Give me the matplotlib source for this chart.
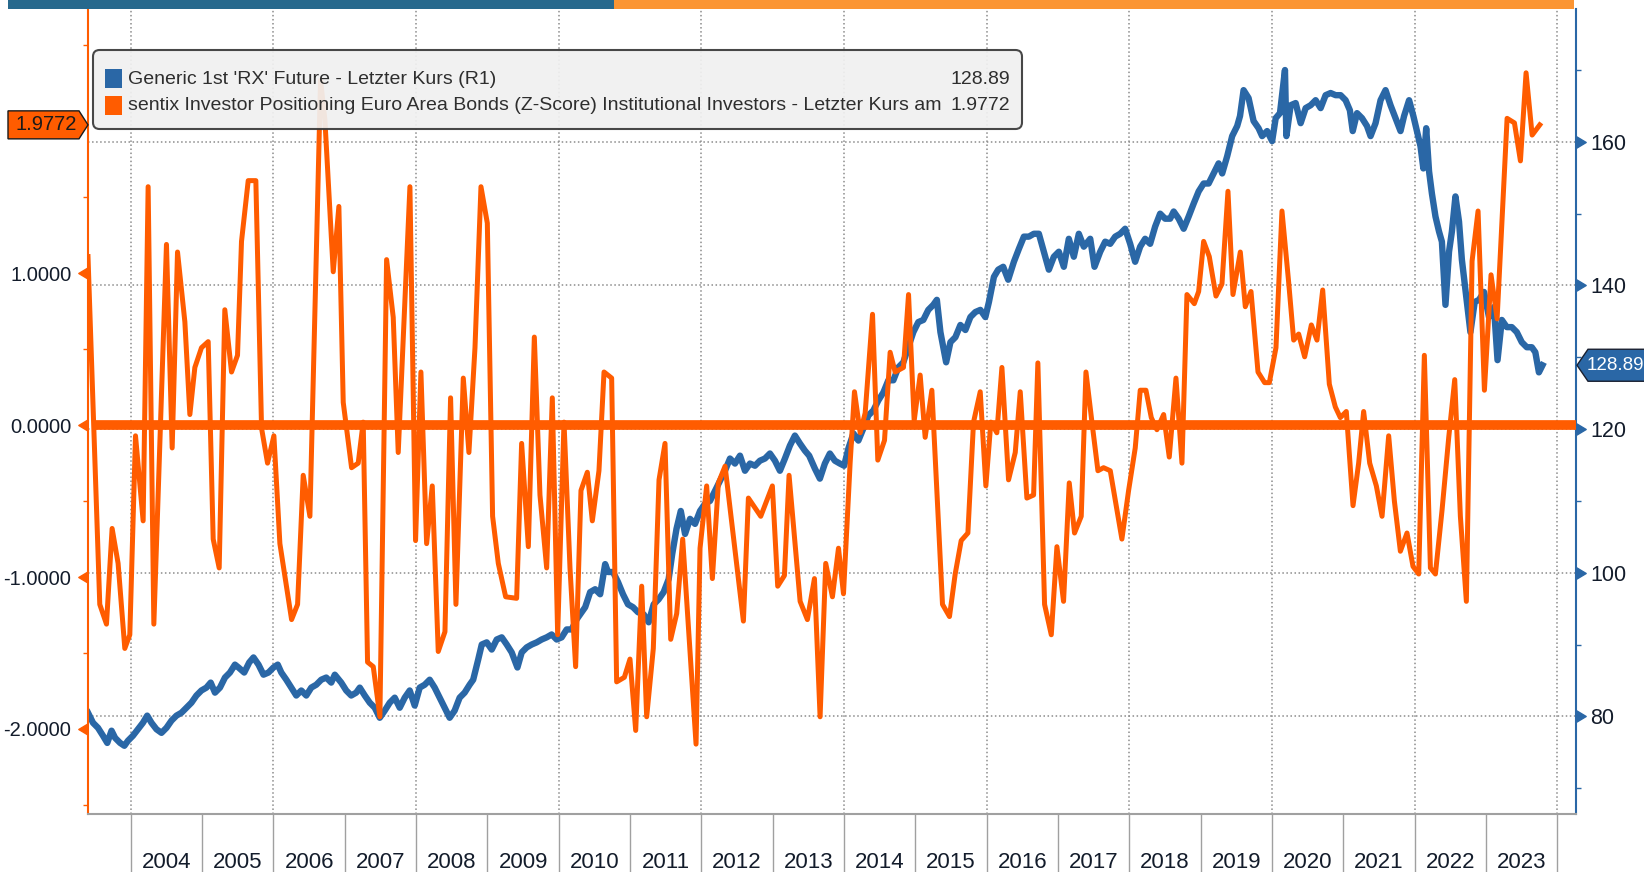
import matplotlib
matplotlib.use("Agg")
import matplotlib.pyplot as plt
import matplotlib.transforms as mtransforms
from matplotlib.patches import Rectangle, FancyBboxPatch, Polygon

plt.rcParams['font.family'] = ['Liberation Sans', 'DejaVu Sans']

W, H = 1644, 872
ORANGE = '#ff5c00'
BLUE = '#2a67a6'
TXT = '#131c2b'

# -----------------------------
# Data
# -----------------------------
# Generic 1st 'RX' Future (right axis)
rx_t = [2003.40, 2003.47, 2003.54, 2003.61, 2003.67, 2003.73, 2003.78, 2003.85, 2003.91, 2003.96,
        2004.03, 2004.10, 2004.17, 2004.23, 2004.29, 2004.36, 2004.43, 2004.50, 2004.57, 2004.64,
        2004.71, 2004.78, 2004.85, 2004.92, 2004.99, 2005.06, 2005.12, 2005.18, 2005.25, 2005.32,
        2005.39, 2005.46, 2005.51, 2005.59, 2005.66, 2005.72, 2005.79, 2005.86, 2005.93, 2006.00,
        2006.06, 2006.11, 2006.18, 2006.25, 2006.32, 2006.39, 2006.46, 2006.53, 2006.60, 2006.67,
        2006.74, 2006.81, 2006.86, 2006.95, 2007.02, 2007.09, 2007.16, 2007.21, 2007.28, 2007.35,
        2007.42, 2007.49, 2007.56, 2007.63, 2007.70, 2007.77, 2007.84, 2007.91, 2007.98, 2008.05,
        2008.12, 2008.19, 2008.26, 2008.33, 2008.40, 2008.47, 2008.54, 2008.61, 2008.68, 2008.75,
        2008.80, 2008.87, 2008.92, 2008.99, 2009.06, 2009.13, 2009.20, 2009.27, 2009.34, 2009.42,
        2009.48, 2009.55, 2009.62, 2009.69, 2009.76, 2009.83, 2009.90, 2009.97, 2010.04, 2010.11,
        2010.18, 2010.25, 2010.37, 2010.44, 2010.51, 2010.58, 2010.65, 2010.69, 2010.76, 2010.83,
        2010.90, 2010.97, 2011.04, 2011.11, 2011.19, 2011.26, 2011.33, 2011.40, 2011.47, 2011.54,
        2011.59, 2011.65, 2011.71, 2011.77, 2011.84, 2011.91, 2011.98, 2012.05, 2012.12, 2012.19,
        2012.26, 2012.33, 2012.40, 2012.47, 2012.54, 2012.61, 2012.68, 2012.75, 2012.82, 2012.89,
        2012.96, 2013.03, 2013.10, 2013.17, 2013.24, 2013.31, 2013.38, 2013.45, 2013.51, 2013.59,
        2013.66, 2013.73, 2013.80, 2013.87, 2013.94, 2014.00, 2014.06, 2014.13, 2014.20, 2014.27,
        2014.34, 2014.41, 2014.48, 2014.55, 2014.62, 2014.69, 2014.76, 2014.83, 2014.90, 2014.97,
        2015.04, 2015.11, 2015.18, 2015.25, 2015.30, 2015.35, 2015.39, 2015.43, 2015.49, 2015.56,
        2015.63, 2015.70, 2015.77, 2015.84, 2015.91, 2015.98, 2016.03, 2016.10, 2016.16, 2016.23,
        2016.30, 2016.38, 2016.45, 2016.52, 2016.59, 2016.66, 2016.73, 2016.80, 2016.87, 2016.94,
        2017.01, 2017.08, 2017.15, 2017.22, 2017.29, 2017.36, 2017.45, 2017.51, 2017.59, 2017.66,
        2017.73, 2017.80, 2017.87, 2017.94, 2018.01, 2018.08, 2018.15, 2018.22, 2018.29, 2018.36,
        2018.43, 2018.50, 2018.57, 2018.62, 2018.69, 2018.76, 2018.83, 2018.90, 2018.97, 2019.04,
        2019.11, 2019.18, 2019.25, 2019.30, 2019.37, 2019.44, 2019.51, 2019.55, 2019.60, 2019.67,
        2019.74, 2019.81, 2019.86, 2019.93, 2020.00, 2020.05, 2020.11, 2020.18, 2020.20, 2020.26,
        2020.33, 2020.40, 2020.47, 2020.54, 2020.61, 2020.68, 2020.75, 2020.82, 2020.89, 2020.96,
        2021.03, 2021.09, 2021.13, 2021.19, 2021.26, 2021.33, 2021.38, 2021.45, 2021.52, 2021.59,
        2021.66, 2021.73, 2021.80, 2021.85, 2021.92, 2021.98, 2022.03, 2022.08, 2022.12, 2022.16,
        2022.20, 2022.24, 2022.29, 2022.34, 2022.38, 2022.43, 2022.48, 2022.52, 2022.57, 2022.62,
        2022.66, 2022.73, 2022.78, 2022.84, 2022.90, 2022.97, 2023.04, 2023.11, 2023.16, 2023.22,
        2023.29, 2023.36, 2023.43, 2023.50, 2023.57, 2023.64, 2023.69, 2023.74, 2023.79]
rx_v = [80.5, 79.1, 78.4, 77.3, 76.3, 78.0, 77.0, 76.3, 75.9, 76.6,
        77.3, 78.2, 79.1, 80.1, 79.1, 78.2, 77.7, 78.4, 79.4, 80.1,
        80.5, 81.2, 81.9, 82.9, 83.6, 84.0, 84.7, 83.3, 84.0, 85.4,
        86.1, 87.2, 86.8, 86.1, 87.5, 88.2, 87.2, 85.8, 86.1, 86.8,
        87.2, 86.1, 85.1, 84.0, 82.9, 83.6, 82.9, 84.0, 84.4, 85.1,
        85.4, 84.7, 85.8, 84.7, 83.6, 82.9, 83.3, 84.0, 82.9, 81.9,
        81.2, 79.8, 80.8, 81.9, 82.6, 81.2, 82.6, 83.6, 81.5, 84.0,
        84.4, 85.1, 84.0, 82.6, 81.2, 79.8, 80.8, 82.6, 83.3, 84.4,
        85.1, 87.9, 90.0, 90.3, 89.3, 90.7, 91.0, 90.0, 88.9, 86.8,
        88.9, 89.6, 90.0, 90.3, 90.7, 91.0, 91.4, 90.7, 91.0, 92.1,
        92.1, 93.5, 95.2, 97.3, 97.7, 97.0, 101.2, 100.1, 100.1, 98.7,
        97.0, 95.6, 95.2, 94.5, 94.2, 93.1, 95.6, 96.3, 97.3, 99.1,
        102.6, 106.1, 108.6, 105.4, 107.5, 106.8, 108.6, 109.6, 110.0, 111.4,
        112.8, 114.2, 115.9, 115.2, 116.3, 114.2, 115.2, 114.9, 115.6, 115.9,
        116.6, 115.6, 114.2, 115.9, 117.7, 119.1, 118.0, 117.0, 116.3, 114.5,
        113.1, 115.2, 116.6, 115.6, 115.2, 114.9, 117.3, 119.4, 118.4, 120.1,
        121.9, 122.6, 124.0, 125.1, 126.8, 126.8, 128.6, 129.3, 131.4, 133.5,
        134.9, 135.2, 136.6, 137.3, 138.0, 133.5, 131.4, 129.3, 132.1, 132.8,
        134.5, 133.8, 135.6, 136.3, 136.6, 135.6, 137.7, 141.2, 142.2, 142.6,
        140.8, 143.3, 145.1, 146.8, 146.8, 147.2, 147.2, 144.7, 142.2, 144.0,
        144.7, 142.6, 146.5, 144.0, 147.2, 145.4, 146.5, 142.6, 144.7, 146.1,
        145.8, 146.8, 147.2, 147.9, 145.8, 143.3, 145.4, 146.5, 145.8, 148.2,
        150.0, 149.3, 149.3, 150.3, 149.3, 147.9, 149.6, 151.4, 153.1, 154.2,
        154.2, 155.6, 157.0, 155.6, 158.0, 160.8, 162.2, 163.6, 167.2, 166.1,
        162.9, 161.9, 160.8, 161.5, 160.1, 163.3, 164.0, 170.0, 160.8, 165.1,
        165.4, 162.6, 164.7, 165.1, 165.8, 164.7, 166.5, 166.8, 166.5, 166.5,
        165.8, 164.4, 161.5, 164.0, 163.3, 162.2, 160.8, 162.6, 165.8, 167.2,
        165.1, 163.3, 161.5, 163.6, 165.8, 163.6, 161.5, 159.4, 156.3, 161.9,
        155.9, 152.8, 149.6, 147.5, 146.1, 137.3, 144.7, 147.5, 152.4, 148.9,
        143.6, 137.7, 133.5, 137.7, 138.0, 139.1, 135.6, 137.0, 129.6, 135.2,
        134.2, 134.2, 133.5, 132.1, 131.4, 131.4, 130.7, 127.9, 128.89]

# sentix Investor Positioning Euro Area Bonds, Z-Score (left axis)
snt_t = [2003.400, 2003.565, 2003.659, 2003.738, 2003.822, 2003.916, 2003.986, 2004.066, 2004.173, 2004.243,
         2004.323, 2004.500, 2004.580, 2004.655, 2004.758, 2004.828, 2004.898, 2004.991, 2005.085, 2005.155,
         2005.239, 2005.318, 2005.412, 2005.496, 2005.552, 2005.646, 2005.753, 2005.833, 2005.917, 2006.006,
         2006.090, 2006.254, 2006.338, 2006.417, 2006.511, 2006.660, 2006.721, 2006.838, 2006.917, 2006.978,
         2007.095, 2007.188, 2007.258, 2007.319, 2007.399, 2007.492, 2007.586, 2007.679, 2007.749, 2007.913,
         2007.992, 2008.067, 2008.147, 2008.226, 2008.310, 2008.404, 2008.483, 2008.558, 2008.661, 2008.740,
         2008.825, 2008.909, 2008.998, 2009.072, 2009.152, 2009.255, 2009.409, 2009.479, 2009.573, 2009.657,
         2009.736, 2009.830, 2009.909, 2009.984, 2010.073, 2010.157, 2010.236, 2010.311, 2010.400, 2010.470,
         2010.563, 2010.634, 2010.741, 2010.811, 2010.919, 2010.998, 2011.078, 2011.162, 2011.232, 2011.325,
         2011.405, 2011.489, 2011.569, 2011.653, 2011.737, 2011.924, 2011.980, 2012.073, 2012.153, 2012.237,
         2012.331, 2012.588, 2012.658, 2012.831, 2012.994, 2013.069, 2013.163, 2013.228, 2013.383, 2013.485,
         2013.584, 2013.663, 2013.742, 2013.836, 2013.921, 2013.991, 2014.084, 2014.145, 2014.225, 2014.295,
         2014.398, 2014.472, 2014.566, 2014.645, 2014.715, 2014.832, 2014.903, 2014.982, 2015.066, 2015.136,
         2015.230, 2015.379, 2015.477, 2015.557, 2015.641, 2015.735, 2015.814, 2015.908, 2015.987, 2016.057,
         2016.141, 2016.212, 2016.305, 2016.399, 2016.469, 2016.562, 2016.656, 2016.716, 2016.810, 2016.904,
         2016.983, 2017.076, 2017.156, 2017.230, 2017.324, 2017.390, 2017.474, 2017.558, 2017.637, 2017.731,
         2017.894, 2017.988, 2018.081, 2018.151, 2018.231, 2018.306, 2018.385, 2018.479, 2018.558, 2018.652,
         2018.736, 2018.806, 2018.909, 2018.970, 2019.040, 2019.119, 2019.213, 2019.297, 2019.381, 2019.451,
         2019.554, 2019.624, 2019.704, 2019.802, 2019.895, 2019.961, 2020.054, 2020.138, 2020.232, 2020.302,
         2020.372, 2020.456, 2020.550, 2020.629, 2020.709, 2020.802, 2020.886, 2020.956, 2021.040, 2021.134,
         2021.213, 2021.283, 2021.368, 2021.461, 2021.541, 2021.634, 2021.714, 2021.798, 2021.891, 2021.975,
         2022.055, 2022.134, 2022.219, 2022.289, 2022.382, 2022.476, 2022.560, 2022.639, 2022.723, 2022.803,
         2022.887, 2022.976, 2023.069, 2023.154, 2023.294, 2023.397, 2023.481, 2023.560, 2023.645, 2023.752]
snt_v = [1.11, -1.18, -1.31, -0.68, -0.91, -1.47, -1.38, -0.07, -0.63, 1.57,
         -1.31, 1.19, -0.15, 1.14, 0.68, 0.07, 0.38, 0.51, 0.55, -0.75,
         -0.94, 0.76, 0.35, 0.46, 1.21, 1.61, 1.61, -0.02, -0.25, -0.07,
         -0.78, -1.28, -1.18, -0.33, -0.60, 2.27, 2.01, 1.01, 1.44, 0.15,
         -0.28, -0.25, 0.02, -1.56, -1.59, -1.92, 1.09, 0.71, -0.18, 1.57,
         -0.76, 0.35, -0.78, -0.40, -1.49, -1.36, 0.18, -1.18, 0.31, -0.18,
         0.51, 1.57, 1.33, -0.60, -0.91, -1.13, -1.14, -0.12, -0.80, 0.58,
         -0.46, -0.94, 0.18, -1.38, 0.02, -0.94, -1.59, -0.43, -0.31, -0.63,
         -0.30, 0.35, 0.31, -1.69, -1.66, -1.54, -2.01, -1.06, -1.92, -1.47,
         -0.36, -0.12, -1.41, -1.24, -0.75, -2.10, -0.81, -0.40, -1.01, -0.38,
         -0.27, -1.29, -0.48, -0.60, -0.40, -1.06, -0.99, -0.33, -1.16, -1.28,
         -1.01, -1.92, -0.91, -1.13, -0.81, -1.11, -0.25, 0.22, -0.05, 0.08,
         0.73, -0.23, -0.10, 0.48, 0.35, 0.38, 0.86, 0.03, 0.33, -0.08,
         0.23, -1.18, -1.26, -0.98, -0.76, -0.71, 0.02, 0.22, -0.40, 0.02,
         -0.05, 0.38, -0.36, -0.18, 0.22, -0.48, -0.46, 0.41, -1.18, -1.38,
         -0.80, -1.16, -0.38, -0.71, -0.60, 0.35, 0.02, -0.30, -0.28, -0.30,
         -0.75, -0.43, -0.15, 0.23, 0.23, 0.05, -0.03, 0.07, -0.21, 0.31,
         -0.25, 0.86, 0.80, 0.88, 1.21, 1.11, 0.85, 0.93, 1.54, 0.86,
         1.14, 0.78, 0.88, 0.35, 0.28, 0.28, 0.51, 1.41, 0.94, 0.56,
         0.60, 0.45, 0.66, 0.56, 0.89, 0.27, 0.12, 0.05, 0.09, -0.53,
         -0.25, 0.09, -0.25, -0.40, -0.60, -0.07, -0.50, -0.83, -0.71, -0.93,
         -0.98, 0.46, -0.94, -0.98, -0.56, -0.08, 0.30, -0.60, -1.16, 1.08,
         1.41, 0.23, 0.99, 0.70, 2.02, 1.99, 1.74, 2.32, 1.91, 1.9772]

years = list(range(2004, 2024))
left_ticks = [-2, -1, 0, 1]
right_ticks = [80, 100, 120, 140, 160]
rx_last = 128.89
snt_last = 1.9772
rx_label = "Generic 1st 'RX' Future - Letzter Kurs (R1)"
snt_label = "sentix Investor Positioning Euro Area Bonds (Z-Score) Institutional Investors - Letzter Kurs am"


def fx(px):
    return px / W


def fy(py):
    return 1 - py / H


# -----------------------------
# Figure / axes
# -----------------------------
fig = plt.figure(figsize=(W / 100, H / 100), dpi=100)
ax = fig.add_axes([fx(88), fy(814), (1576 - 88) / W, (814 - 9) / H])
ax2 = ax.twinx()
ax.set_zorder(2)
ax2.set_zorder(1)
ax.patch.set_visible(False)

ax.set_xlim(2003.40, 2024.26)
ax.set_ylim(-2.56, 2.74)
ax2.set_ylim(66.4, 178.5)

# grid (drawn on the lower axes)
ax2.grid(axis='y', which='major', color='#8c8c8c', linestyle=':', linewidth=1.1)
for yr in range(2004, 2025, 2):
    ax2.axvline(yr, color='#8c8c8c', linestyle=':', linewidth=1.1, zorder=0)

# series
ax2.plot(rx_t, rx_v, color=BLUE, lw=4.6, solid_joinstyle='round', zorder=2)
ax.axhline(0, xmin=0.006, xmax=1, color=ORANGE, lw=7, zorder=3)
ax.plot(snt_t, snt_v, color=ORANGE, lw=3.6, solid_joinstyle='round', zorder=4)

# spines
for s in ['top', 'right']:
    ax.spines[s].set_visible(False)
ax.spines['left'].set_color(ORANGE)
ax.spines['left'].set_linewidth(1.5)
ax.spines['bottom'].set_color('#a0a0a0')
ax.spines['bottom'].set_linewidth(1.5)
for s in ['left', 'top', 'bottom']:
    ax2.spines[s].set_visible(False)
ax2.spines['right'].set_color(BLUE)
ax2.spines['right'].set_linewidth(1.5)

# left axis ticks
ax.set_yticks(left_ticks)
ax.set_yticklabels([f"{v:.4f}" for v in left_ticks])
ax.set_yticks([-2.5, -1.5, -0.5, 0.5, 1.5, 2.5], minor=True)
ax.tick_params(axis='y', which='major', length=0, pad=12, labelsize=14.5, labelcolor=TXT)
ax.tick_params(axis='y', which='minor', length=3.6, width=1, color=ORANGE, direction='out')
lt = mtransforms.blended_transform_factory(ax.transAxes, ax.transData)
ax.plot([0] * len(left_ticks), left_ticks, ls='', marker=[(0, -0.6), (-1, 0), (0, 0.6)],
        ms=14, color=ORANGE, transform=lt, clip_on=False, zorder=6)

# right axis ticks
ax2.set_yticks(right_ticks)
ax2.set_yticks([70, 90, 110, 130, 150, 170], minor=True)
ax2.tick_params(axis='y', which='major', length=0, pad=10, labelsize=15.5, labelcolor=TXT)
ax2.tick_params(axis='y', which='minor', length=3.6, width=1, color=BLUE, direction='out')
rt = mtransforms.blended_transform_factory(ax2.transAxes, ax2.transData)
ax2.plot([1] * len(right_ticks), right_ticks, ls='', marker=[(0, -0.6), (1, 0), (0, 0.6)],
         ms=14, color=BLUE, transform=rt, clip_on=False, zorder=6)

# x axis: year separators + centred labels
ax.set_xticks(range(2004, 2025))
ax.set_xticklabels([])
ax.set_xticks([y + 0.5 for y in years], minor=True)
ax.set_xticklabels([str(y) for y in years], minor=True)
ax.tick_params(axis='x', which='major', length=43, width=1, color='#a0a0a0', direction='out')
ax.tick_params(axis='x', which='minor', length=0, pad=27, labelsize=16, labelcolor=TXT)

# -----------------------------
# Banner on top
# -----------------------------
fig.add_artist(Rectangle((fx(8), fy(9)), fx(614) - fx(8), 9 / H, transform=fig.transFigure,
                         facecolor='#27698d', edgecolor='none', zorder=10))
fig.add_artist(Rectangle((fx(614), fy(9)), fx(1574) - fx(614), 9 / H, transform=fig.transFigure,
                         facecolor='#fb9533', edgecolor='none', zorder=10))

# -----------------------------
# Legend box
# -----------------------------
fig.add_artist(FancyBboxPatch((fx(93), fy(129)), fx(1022) - fx(93), (129 - 50) / H,
                              boxstyle="round,pad=0,rounding_size=0.004", mutation_aspect=W / H,
                              transform=fig.transFigure, facecolor='#f0f0f0', edgecolor='#3a3a3a',
                              lw=1.5, alpha=0.93, zorder=10))
for yc, col, lab, val in [(79, BLUE, rx_label, f"{rx_last:.2f}"),
                          (106, ORANGE, snt_label, f"{snt_last:.4f}")]:
    fig.add_artist(Rectangle((fx(105), fy(yc + 9)), 17 / W, 19 / H, transform=fig.transFigure,
                             facecolor=col, edgecolor='none', zorder=11))
    fig.text(fx(128), fy(yc), lab, fontsize=14, color='#2e2e2e', va='center', ha='left', zorder=12)
    fig.text(fx(1010), fy(yc), val, fontsize=14, color='#2e2e2e', va='center', ha='right', zorder=12)

# -----------------------------
# Last value markers
# -----------------------------
yl = H - ax.transData.transform((2010, snt_last))[1]
pts = [(8, yl - 14), (79, yl - 14), (88, yl), (79, yl + 14), (8, yl + 14)]
fig.add_artist(Polygon([(fx(x), fy(y)) for x, y in pts], closed=True, transform=fig.transFigure,
                       facecolor=ORANGE, edgecolor='#1a1a1a', lw=1, zorder=11))
fig.text(fx(46), fy(yl), f"{snt_last:.4f}", fontsize=14.5, color='#1a1a1a', ha='center', va='center', zorder=12)

yr_ = H - ax2.transData.transform((2010, rx_last))[1]
pts = [(1577, yr_), (1588, yr_ - 16), (1650, yr_ - 16), (1650, yr_ + 16), (1588, yr_ + 16)]
fig.add_artist(Polygon([(fx(x), fy(y)) for x, y in pts], closed=True, transform=fig.transFigure,
                       facecolor=BLUE, edgecolor='#1a2030', lw=1, zorder=11))
fig.text(fx(1615), fy(yr_), f"{rx_last:.2f}", fontsize=13.5, color='white', ha='center', va='center', zorder=12)

fig.savefig("out.png", dpi=100)
